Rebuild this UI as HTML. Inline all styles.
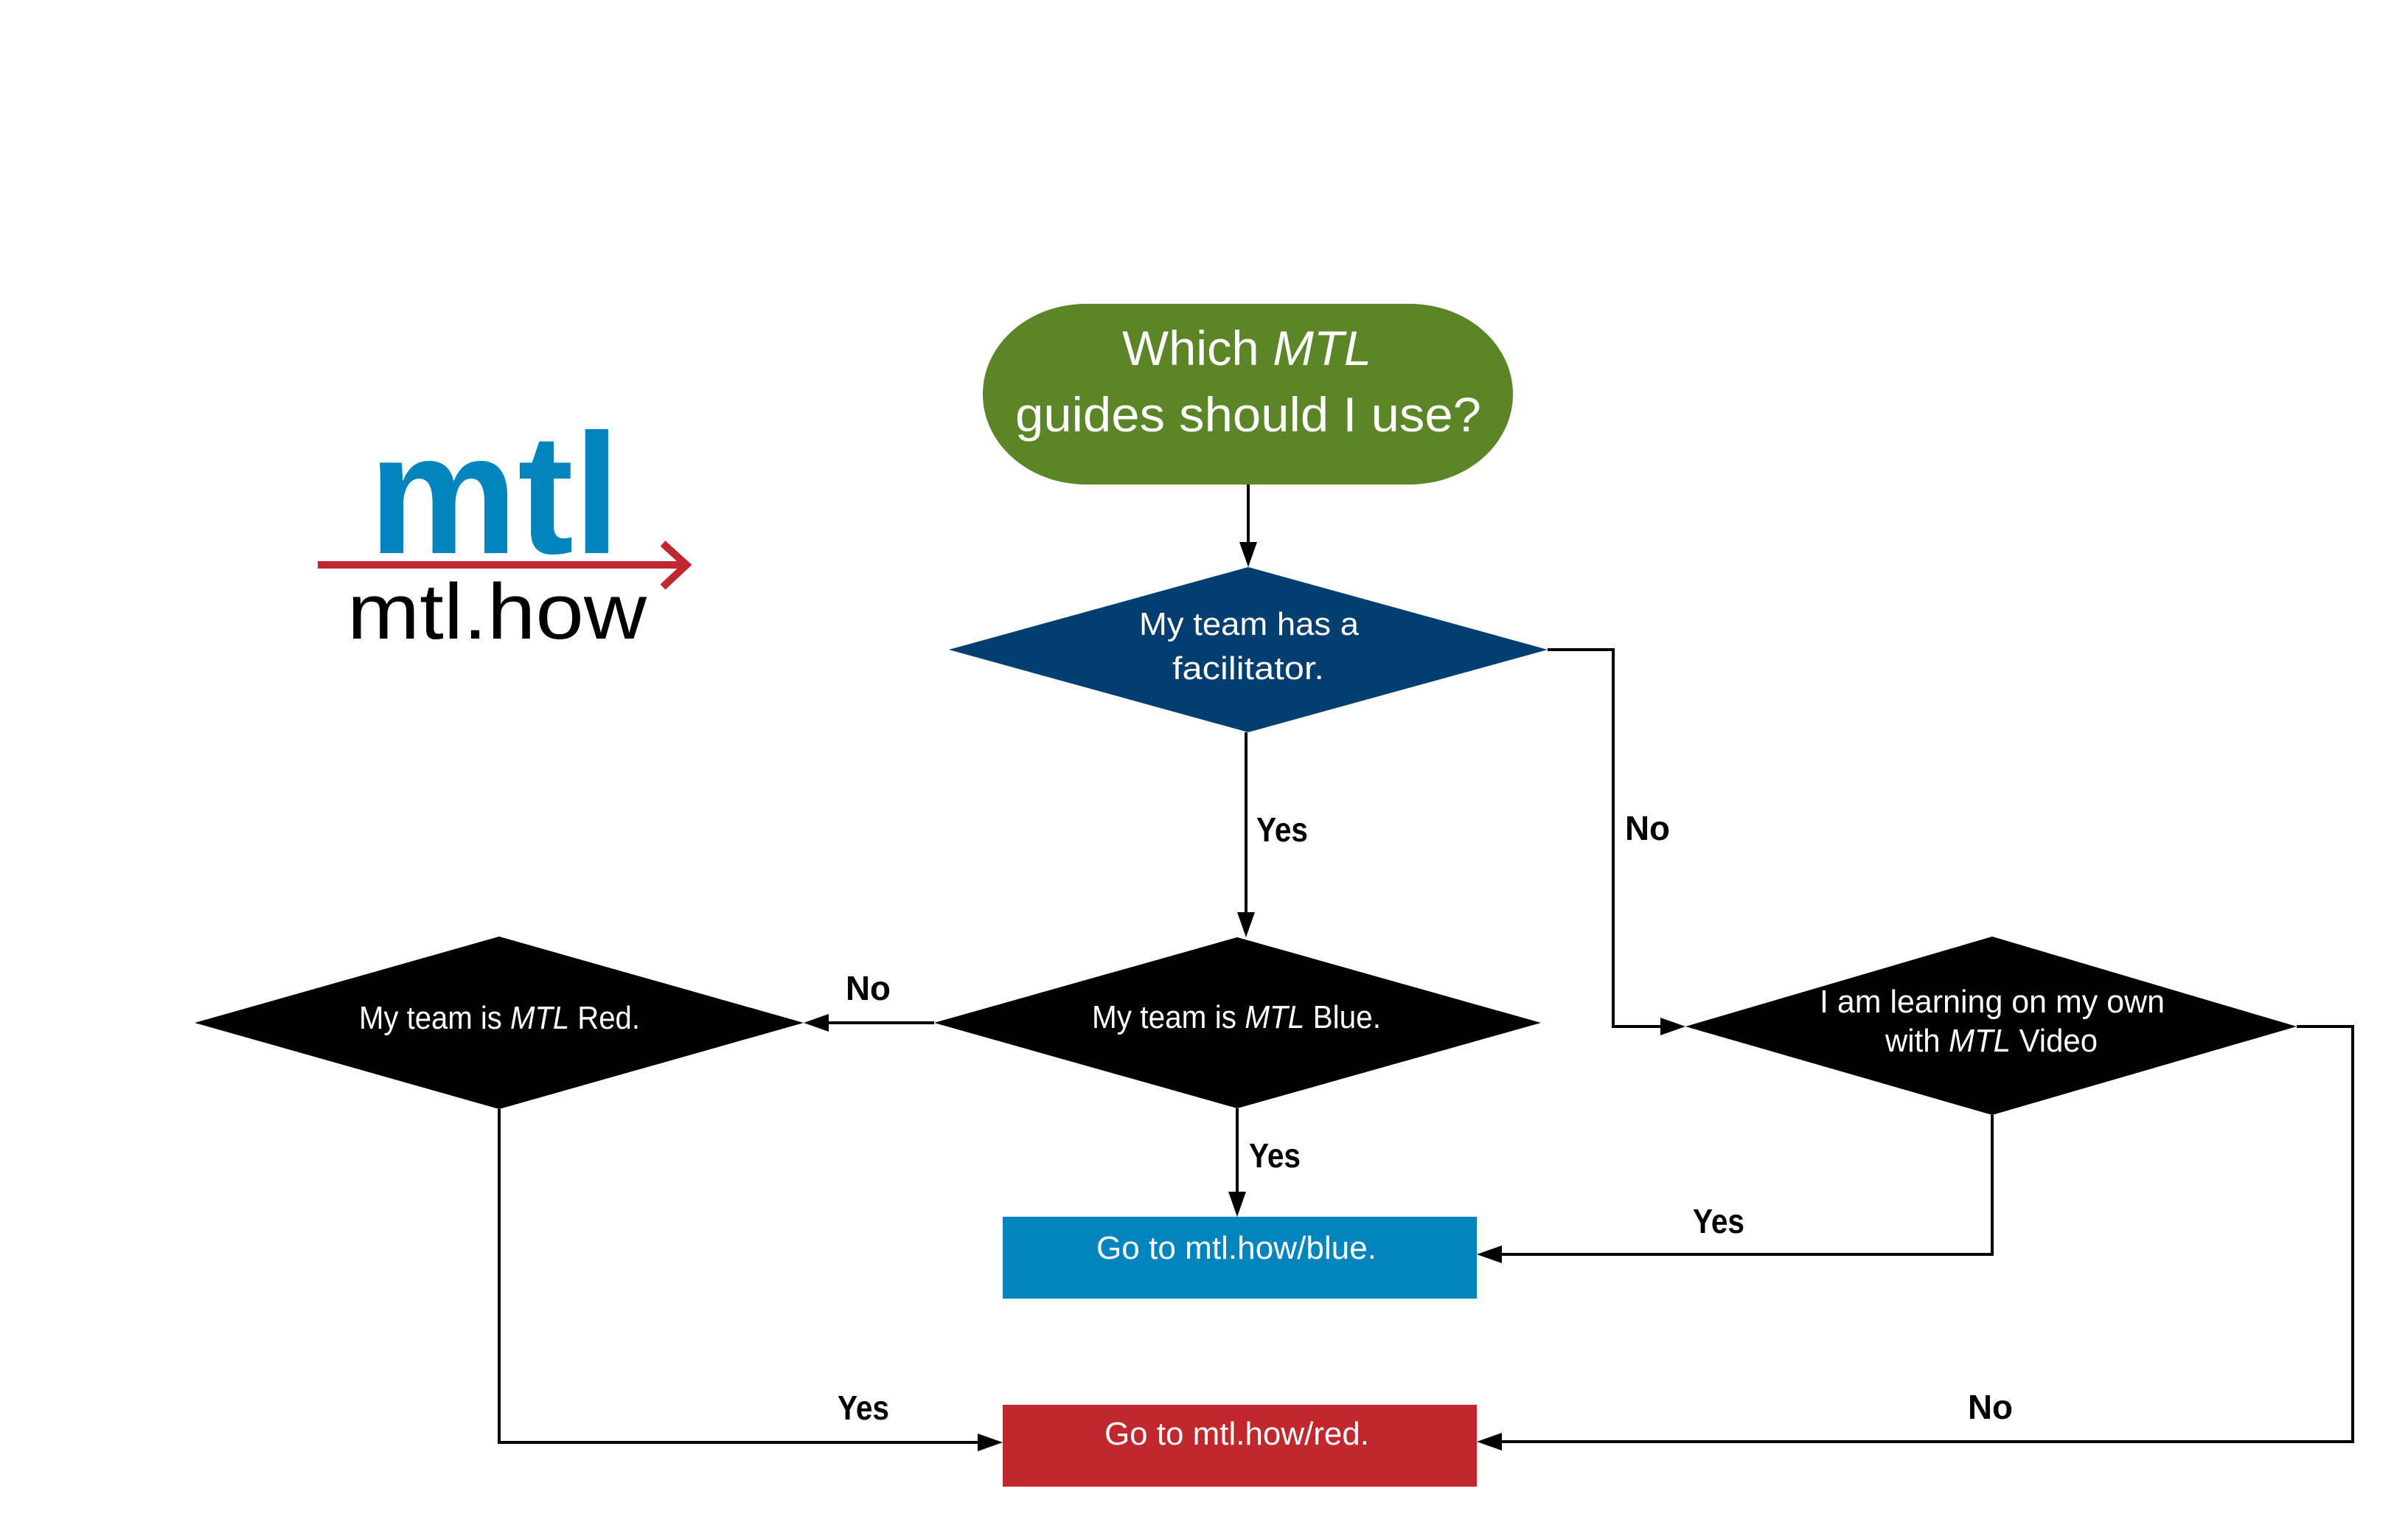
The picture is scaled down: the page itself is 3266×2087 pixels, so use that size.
<!DOCTYPE html>
<html><head><meta charset="utf-8"><style>
html,body{margin:0;padding:0;background:#fff;}
svg{display:block;}
text{font-family:"Liberation Sans",sans-serif;}
</style></head><body>
<svg width="3266" height="2087" viewBox="0 0 3266 2087" xmlns="http://www.w3.org/2000/svg">
<rect width="3266" height="2087" fill="#fff"/>
<!-- logo -->
<text x="500" y="750" font-size="232" font-weight="bold" fill="#0284bf" textLength="341" lengthAdjust="spacingAndGlyphs">mtl</text>
<line x1="431" y1="766" x2="928" y2="766" stroke="#c1272d" stroke-width="10"/>
<polyline points="899,737 931,766 899,796" fill="none" stroke="#c1272d" stroke-width="10"/>
<text x="471" y="866" font-size="107" fill="#000" textLength="406" lengthAdjust="spacingAndGlyphs">mtl.how</text>

<!-- connectors -->
<g stroke="#000" stroke-width="4" fill="none">
<line x1="1693" y1="657" x2="1693" y2="740"/>
<line x1="1690" y1="993" x2="1690" y2="1242"/>
<line x1="1267" y1="1387" x2="1120" y2="1387"/>
<line x1="1678" y1="1503" x2="1678" y2="1620"/>
<polyline points="2099,881 2188,881 2188,1392 2256,1392"/>
<polyline points="2702,1512 2702,1701 2033,1701"/>
<polyline points="3115,1392 3191,1392 3191,1955 2033,1955"/>
<polyline points="677,1504 677,1956 1330,1956"/>
</g>
<g fill="#000">
<polygon points="1693,769 1681,735 1705,735"/>
<polygon points="1690,1271 1678,1237 1702,1237"/>
<polygon points="1090,1387 1124,1375 1124,1399"/>
<polygon points="1678,1650 1666,1616 1690,1616"/>
<polygon points="2286,1392 2252,1380 2252,1404"/>
<polygon points="2003,1701 2037,1689 2037,1713"/>
<polygon points="2003,1955 2037,1943 2037,1967"/>
<polygon points="1360,1956 1326,1944 1326,1968"/>
</g>

<!-- pill -->
<rect x="1333" y="412" width="719" height="245" rx="140" ry="122" fill="#5b8527"/>
<text x="1522" y="495" font-size="66" fill="#fff" textLength="338" lengthAdjust="spacingAndGlyphs">Which <tspan font-style="italic">MTL</tspan></text>
<text x="1377" y="585" font-size="66" fill="#fff" textLength="632" lengthAdjust="spacingAndGlyphs">guides should I use?</text>

<!-- diamond 1 -->
<polygon points="1287,881 1693,769 2099,881 1693,993" fill="#023e6f"/>
<text x="1545" y="861" font-size="44" fill="#fff" textLength="298" lengthAdjust="spacingAndGlyphs">My team has a</text>
<text x="1590" y="921" font-size="44" fill="#fff" textLength="206" lengthAdjust="spacingAndGlyphs">facilitator.</text>

<!-- diamond 2 -->
<polygon points="1267,1387 1678,1271 2090,1387 1678,1503" fill="#000"/>
<text x="1481" y="1394" font-size="44" fill="#fff" textLength="392" lengthAdjust="spacingAndGlyphs">My team is <tspan font-style="italic">MTL</tspan> Blue.</text>

<!-- red diamond -->
<polygon points="264,1387 677,1270 1090,1387 677,1504" fill="#000"/>
<text x="487" y="1395" font-size="44" fill="#fff" textLength="381" lengthAdjust="spacingAndGlyphs">My team is <tspan font-style="italic">MTL</tspan> Red.</text>

<!-- diamond 3 -->
<polygon points="2286,1392 2702,1270 3115,1392 2702,1512" fill="#000"/>
<text x="2468" y="1373" font-size="44" fill="#fff" textLength="468" lengthAdjust="spacingAndGlyphs">I am learning on my own</text>
<text x="2557" y="1426" font-size="44" fill="#fff" textLength="288" lengthAdjust="spacingAndGlyphs">with <tspan font-style="italic">MTL</tspan> Video</text>

<!-- rects -->
<rect x="1360" y="1650" width="643" height="111" fill="#0284bf"/>
<text x="1487" y="1707" font-size="44" fill="#fff" textLength="380" lengthAdjust="spacingAndGlyphs">Go to mtl.how/blue.</text>
<rect x="1360" y="1905" width="643" height="111" fill="#c1272d"/>
<text x="1498" y="1959" font-size="44" fill="#fff" textLength="359" lengthAdjust="spacingAndGlyphs">Go to mtl.how/red.</text>

<!-- labels -->
<g font-size="46" font-weight="bold" fill="#000">
<text x="1704" y="1141" textLength="70" lengthAdjust="spacingAndGlyphs">Yes</text>
<text x="1694" y="1583" textLength="70" lengthAdjust="spacingAndGlyphs">Yes</text>
<text x="1147" y="1356" textLength="61" lengthAdjust="spacingAndGlyphs">No</text>
<text x="1136" y="1925" textLength="70" lengthAdjust="spacingAndGlyphs">Yes</text>
<text x="2204" y="1139" textLength="61" lengthAdjust="spacingAndGlyphs">No</text>
<text x="2296" y="1672" textLength="70" lengthAdjust="spacingAndGlyphs">Yes</text>
<text x="2669" y="1924" textLength="61" lengthAdjust="spacingAndGlyphs">No</text>
</g>
</svg>
</body></html>
